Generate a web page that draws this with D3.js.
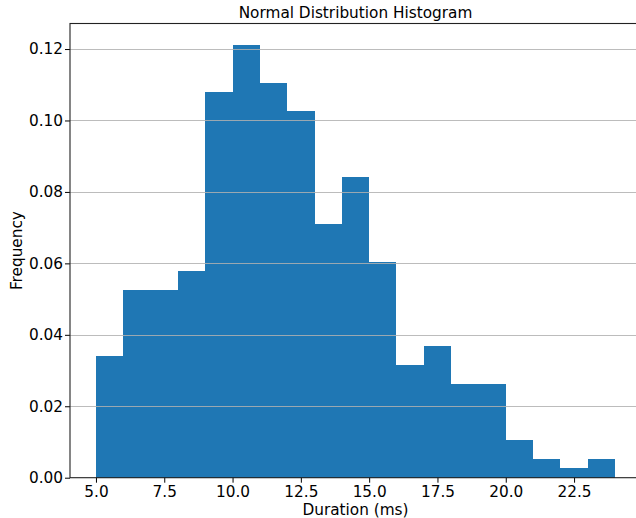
<!DOCTYPE html>
<html>
<head>
<meta charset="utf-8">
<script src="https://cdn.jsdelivr.net/npm/d3@7"></script>
<style>
html,body{margin:0;padding:0;background:#fff;overflow:hidden;}
svg{display:block;font-family:"DejaVu Sans",sans-serif;}
</style>
</head>
<body>
<svg id="chart" width="636" height="518"></svg>
<script>
// Bin edges (ms) and frequency (density) of each bin
const binStarts = [5,6,7,8,9,10,11,12,13,14,15,16,17,18,19,20,21,22,23];
const binWidth = 1;
const frequencies = [0.0342,0.0526,0.0526,0.0579,0.1079,0.1211,0.1105,0.1026,0.0711,0.0842,0.0605,0.0316,0.0368,0.0263,0.0263,0.0105,0.0053,0.0026,0.0053];
const xTicks = [5.0,7.5,10.0,12.5,15.0,17.5,20.0,22.5];
const yTicks = [0.00,0.02,0.04,0.06,0.08,0.10,0.12];
const title = "Normal Distribution Histogram";
const xLabel = "Duration (ms)";
const yLabel = "Frequency";

const svg = d3.select("#chart");
const mLeft = 70, mRight = 641, mTop = 23.5, mBottom = 477.7;

const x = d3.scaleLinear().domain([4.05, 24.95]).range([mLeft, mRight]);
const y = d3.scaleLinear().domain([0, 0.12715]).range([mBottom, mTop]);

// Bars
svg.append("g").selectAll("rect").data(binStarts).join("rect")
  .attr("x", (d) => x(d))
  .attr("width", (d) => x(d + binWidth) - x(d))
  .attr("y", (d, i) => y(frequencies[i]))
  .attr("height", (d, i) => y(0) - y(frequencies[i]))
  .attr("fill", "#1f77b4")
  .attr("shape-rendering", "crispEdges");

// Grid (drawn above bars)
svg.append("g").selectAll("line").data(yTicks.slice(1)).join("line")
  .attr("x1", mLeft).attr("x2", mRight)
  .attr("y1", d => Math.round(y(d)) + 0.5).attr("y2", d => Math.round(y(d)) + 0.5)
  .attr("stroke", "#b0b0b0").attr("stroke-opacity", 0.85).attr("stroke-width", 1);

// Axes
const fs = "15.3px";
const xAxis = d3.axisBottom(x).tickValues(xTicks).tickFormat(d3.format(".1f")).tickSize(5).tickPadding(3.5);
const gx = svg.append("g").attr("transform", `translate(0,${mBottom})`).call(xAxis);
gx.select(".domain").remove();
gx.selectAll("text").attr("font-size", fs).attr("font-family", "DejaVu Sans").attr("fill", "#000");
gx.selectAll("line").attr("stroke", "#000").attr("stroke-width", 1);

const yAxis = d3.axisLeft(y).tickValues(yTicks).tickFormat(d3.format(".2f")).tickSize(5).tickPadding(2);
const gy = svg.append("g").attr("transform", `translate(${mLeft},0)`).call(yAxis);
gy.select(".domain").remove();
gy.selectAll("text").attr("font-size", fs).attr("font-family", "DejaVu Sans").attr("fill", "#000");
gy.selectAll("line").attr("stroke", "#000").attr("stroke-width", 1);

// Spines
const sp = svg.append("g").attr("stroke", "#222").attr("stroke-width", 1.1).attr("fill", "none");
sp.append("rect").attr("x", mLeft).attr("y", mTop).attr("width", mRight - mLeft).attr("height", mBottom - mTop);

// Labels
svg.append("text").attr("x", (mLeft + mRight) / 2).attr("y", 17.5).attr("text-anchor", "middle")
  .attr("font-size", "15.3px").text(title);
svg.append("text").attr("x", (mLeft + mRight) / 2).attr("y", 515).attr("text-anchor", "middle")
  .attr("font-size", fs).text(xLabel);
svg.append("text").attr("transform", `translate(21.5,${(mTop + mBottom) / 2}) rotate(-90)`)
  .attr("text-anchor", "middle").attr("font-size", fs).text(yLabel);
</script>
</body>
</html>
